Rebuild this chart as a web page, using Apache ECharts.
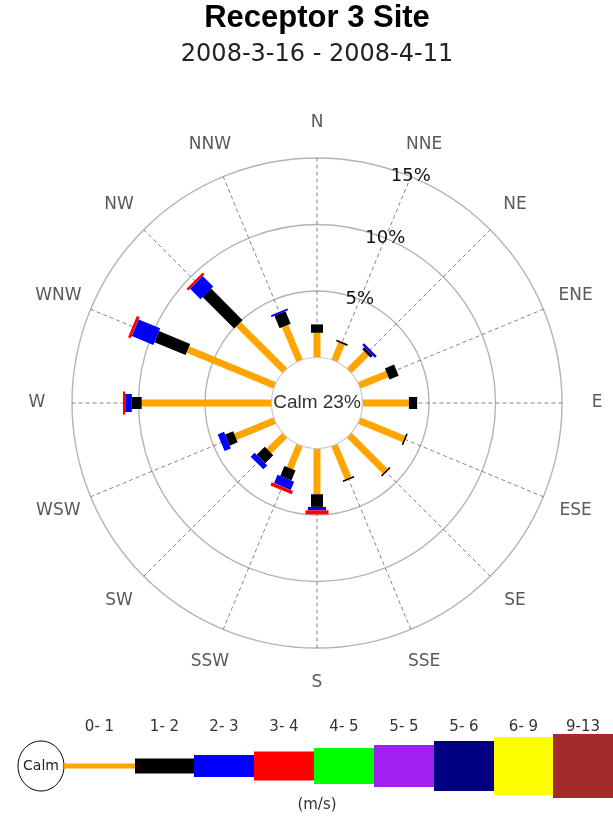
<!DOCTYPE html>
<html><head><meta charset="utf-8">
<script src="https://cdn.jsdelivr.net/npm/echarts@6/dist/echarts.min.js"></script>
<style>html,body{margin:0;padding:0;background:#fff}#c{width:613px;height:821px}</style>
</head><body><div id="c"></div>
<script>
// ---- data ----
const directions = ['N','NNE','NE','ENE','E','ESE','SE','SSE','S','SSW','SW','WSW','W','WNW','NW','NNW'];
const dirAngles = [0,22.5,45,67.5,90,112.5,135,157.5,180,202.5,225,247.5,270,292.5,315,337.5];
const speedClasses = ['0- 1','1- 2','2- 3','3- 4','4- 5','5- 5','5- 6','6- 9','9-13'];
const speedColors = ['#FFA500','#000000','#0000FF','#FF0000','#00FF00','#A020F0','#000080','#FFFF00','#A52A2A'];
// percent frequency per speed class (not cumulative), order of directions
const s0_1  = [1.86,1.41,1.84,2.29,3.49,3.66,3.83,2.70,3.44,1.89,1.68,3.22,9.76,7.09,4.94,2.84];
const s1_2  = [0.63,0.14,0.22,0.75,0.62,0.12,0.12,0.12,0.95,0.81,0.86,0.65,0.74,2.53,3.35,1.02];
const s2_3  = [0,0,0.19,0,0,0,0,0,0.26,0.68,0.42,0.51,0.50,1.75,1.12,0.14];
const s3_4  = [0,0,0,0,0,0,0,0,0.30,0.27,0,0,0.17,0.23,0.19,0];
const s4_5  = [0,0,0,0,0,0,0,0,0,0,0,0,0,0,0,0];
const s5_5  = [0,0,0,0,0,0,0,0,0,0,0,0,0,0,0,0];
const s5_6  = [0,0,0,0,0,0,0,0,0,0,0,0,0,0,0,0];
const s6_9  = [0,0,0,0,0,0,0,0,0,0,0,0,0,0,0,0];
const s9_13 = [0,0,0,0,0,0,0,0,0,0,0,0,0,0,0,0];
const calmPct = 23;
const ringLevels = [5,10,15];
const ringLabels = ['5%','10%','15%'];

// ---- layout ----
const classSeries = [s0_1,s1_2,s2_3,s3_4,s4_5,s5_5,s5_6,s6_9,s9_13];
const barWidths = [7,12,18,23,28,33,38,43,48];
const MAXP = 15;
const CALM = 3.42;            // calm circle radius in percent units
const RMAX = CALM + MAXP;
const LABEL_R = RMAX * 280 / 245;

const chart = echarts.init(document.getElementById('c'), null, {renderer:'canvas'});

function dist(a,b){return Math.hypot(a[0]-b[0],a[1]-b[1]);}

const series = [];
// rings
series.push({
  type:'custom', coordinateSystem:'polar', z:1, silent:true,
  data: ringLevels.map(l=>[l,0]),
  renderItem:(p,api)=>{
    const c = api.coord([0,0]);
    const r = dist(c, api.coord([CALM+api.value(0),0]));
    return {type:'circle', shape:{cx:c[0],cy:c[1],r:r}, style:{fill:'none',stroke:'#b4b4b4',lineWidth:1.4}};
  }
});
// spokes
series.push({
  type:'custom', coordinateSystem:'polar', z:1, silent:true,
  data: dirAngles.map(a=>[0,a]),
  renderItem:(p,api)=>{
    const a = api.value(1);
    const p0 = api.coord([CALM,a]), p1 = api.coord([RMAX,a]);
    return {type:'line', shape:{x1:p0[0],y1:p0[1],x2:p1[0],y2:p1[1]}, style:{stroke:'#666',lineWidth:0.8,lineDash:[4,3]}};
  }
});
// bars
const cum = dirAngles.map(()=>0);
classSeries.forEach((vals,k)=>{
  const data = vals.map((v,i)=>{const s=cum[i]; cum[i]+=v; return [s,dirAngles[i],s+v];});
  const w = barWidths[k], col = speedColors[k];
  series.push({
    type:'custom', coordinateSystem:'polar', z:2, silent:true, name:speedClasses[k],
    data: data,
    renderItem:(p,api)=>{
      const r0 = api.value(0), a = api.value(1), r1 = api.value(2);
      if (!(r1 - r0 > 0)) return null;
      const p0 = api.coord([CALM+r0,a]), p1 = api.coord([CALM+r1,a]);
      const dx = p1[0]-p0[0], dy = p1[1]-p0[1];
      const len = Math.hypot(dx,dy) || 1;
      const nx = -dy/len*w/2, ny = dx/len*w/2;
      return {type:'polygon', shape:{points:[[p0[0]+nx,p0[1]+ny],[p1[0]+nx,p1[1]+ny],[p1[0]-nx,p1[1]-ny],[p0[0]-nx,p0[1]-ny]]}, style:{fill:col}};
    }
  });
});
// calm circle
series.push({
  type:'custom', coordinateSystem:'polar', z:3, silent:true,
  data:[[CALM,0]],
  renderItem:(p,api)=>{
    const c = api.coord([0,0]);
    const r = dist(c, api.coord([api.value(0),0]));
    return {type:'group', children:[
      {type:'circle', shape:{cx:c[0],cy:c[1],r:r}, style:{fill:'#fff',stroke:'#c8c8c8',lineWidth:1.2}},
      {type:'text', x:c[0], y:c[1], style:{text:'Calm '+calmPct+'%', font:'19px "Liberation Sans", Arial, sans-serif', fill:'#333', align:'center', verticalAlign:'middle'}}
    ]};
  }
});
// ring labels
series.push({
  type:'custom', coordinateSystem:'polar', z:4, silent:true,
  data: ringLevels.map((l,i)=>[l,22.5,i]),
  renderItem:(p,api)=>{
    const pt = api.coord([CALM+api.value(0), api.value(1)]);
    return {type:'text', x:pt[0], y:pt[1], style:{text:ringLabels[api.value(2)], font:'18px "DejaVu Sans", Verdana, sans-serif', fill:'#111', align:'center', verticalAlign:'middle'}};
  }
});
// direction labels
series.push({
  type:'custom', coordinateSystem:'polar', z:4, silent:true,
  data: dirAngles.map((a,i)=>[LABEL_R,a,i]),
  renderItem:(p,api)=>{
    const pt = api.coord([api.value(0), api.value(1)]);
    return {type:'text', x:pt[0], y:pt[1], style:{text:directions[api.value(2)], font:'17px "DejaVu Sans", Verdana, sans-serif', fill:'#5a5a5a', align:'center', verticalAlign:'middle'}};
  }
});

// legend graphic
const legX = [64,135,194,254,314,374,434,494,553,613];
const legH = [5,15,22,29,36,42,50,58,64];
const legY = 766;
const graphic = [
  {type:'text', x:317, y:18, style:{text:'Receptor 3 Site', font:'bold 31px "Liberation Sans", Arial, sans-serif', fill:'#000', align:'center', verticalAlign:'middle'}},
  {type:'text', x:317, y:55, style:{text:'2008-3-16 - 2008-4-11', font:'24px "DejaVu Sans", Verdana, sans-serif', fill:'#222', align:'center', verticalAlign:'middle'}},
  {type:'ellipse', shape:{cx:41,cy:legY,rx:23,ry:25}, style:{fill:'#fff',stroke:'#000',lineWidth:1}},
  {type:'text', x:41, y:legY, style:{text:'Calm', font:'14px "DejaVu Sans", Verdana, sans-serif', fill:'#222', align:'center', verticalAlign:'middle'}},
  {type:'text', x:317, y:805, style:{text:'(m/s)', font:'15px "DejaVu Sans", Verdana, sans-serif', fill:'#333', align:'center', verticalAlign:'middle'}}
];
speedClasses.forEach((lab,k)=>{
  graphic.push({type:'rect', shape:{x:legX[k], y:legY-legH[k]/2, width:legX[k+1]-legX[k], height:legH[k]}, style:{fill:speedColors[k]}});
  graphic.push({type:'text', x:(legX[k]+legX[k+1])/2, y:727, style:{text:lab, font:'15px "DejaVu Sans", Verdana, sans-serif', fill:'#333', align:'center', verticalAlign:'middle'}});
});

chart.setOption({
  animation:false,
  backgroundColor:'#fff',
  polar:{center:[317,403], radius:245},
  angleAxis:{type:'value', min:0, max:360, startAngle:90, clockwise:true,
    axisLine:{show:false}, axisTick:{show:false}, axisLabel:{show:false}, splitLine:{show:false}},
  radiusAxis:{type:'value', min:0, max:RMAX,
    axisLine:{show:false}, axisTick:{show:false}, axisLabel:{show:false}, splitLine:{show:false}},
  graphic: graphic,
  series: series
});
</script></body></html>
